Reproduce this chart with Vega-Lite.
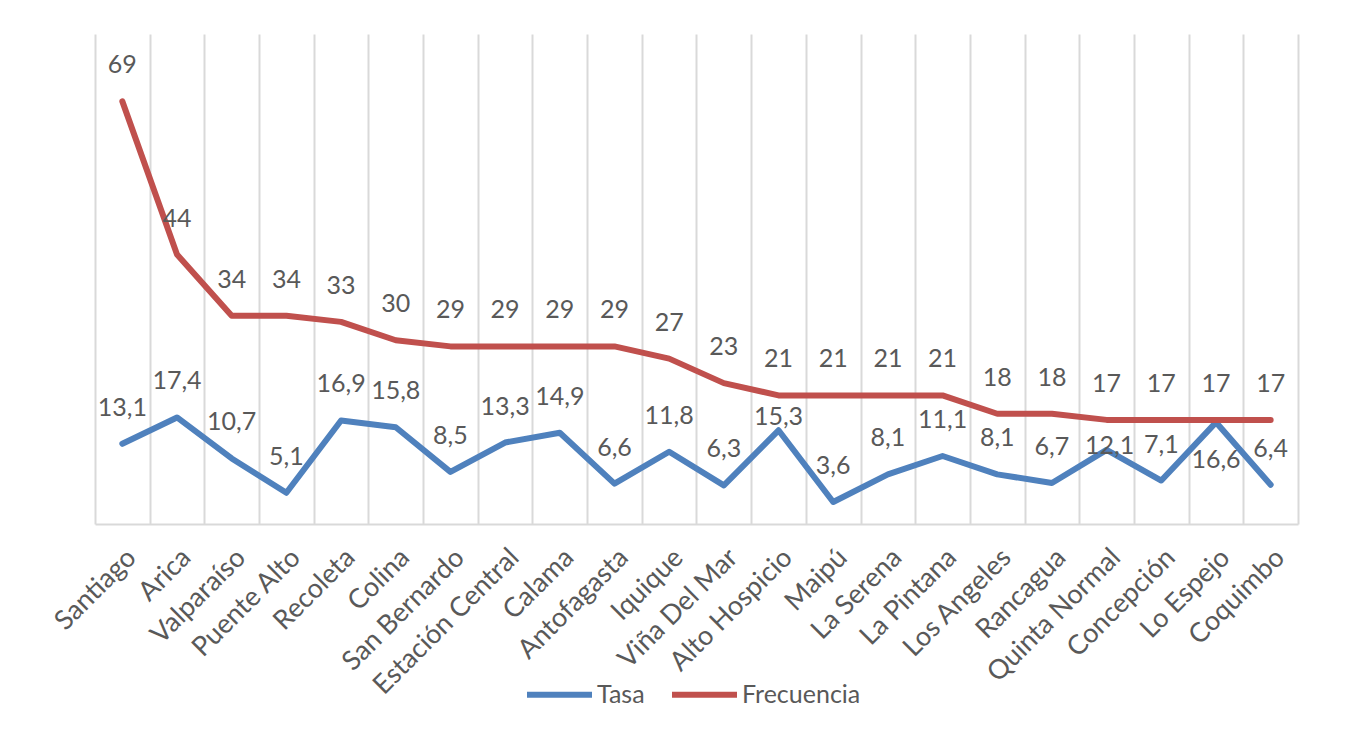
{
  "$schema": "https://vega.github.io/schema/vega-lite/v6.json",
  "width": 1203,
  "height": 490,
  "autosize": {"type": "none"},
  "padding": {"left": 95, "top": 34, "right": 60, "bottom": 210},
  "background": "white",
  "config": {
    "locale": {"number": {"decimal": ",", "thousands": ".", "grouping": [3], "currency": ["$", ""]}},
    "view": {"stroke": null},
    "font": "Lato"
  },
  "data": {
    "values": [
      {"ciudad": "Santiago", "Tasa": 13.1, "Frecuencia": 69},
      {"ciudad": "Arica", "Tasa": 17.4, "Frecuencia": 44},
      {"ciudad": "Valparaíso", "Tasa": 10.7, "Frecuencia": 34},
      {"ciudad": "Puente Alto", "Tasa": 5.1, "Frecuencia": 34},
      {"ciudad": "Recoleta", "Tasa": 16.9, "Frecuencia": 33},
      {"ciudad": "Colina", "Tasa": 15.8, "Frecuencia": 30},
      {"ciudad": "San Bernardo", "Tasa": 8.5, "Frecuencia": 29},
      {"ciudad": "Estación Central", "Tasa": 13.3, "Frecuencia": 29},
      {"ciudad": "Calama", "Tasa": 14.9, "Frecuencia": 29},
      {"ciudad": "Antofagasta", "Tasa": 6.6, "Frecuencia": 29},
      {"ciudad": "Iquique", "Tasa": 11.8, "Frecuencia": 27},
      {"ciudad": "Viña Del Mar", "Tasa": 6.3, "Frecuencia": 23},
      {"ciudad": "Alto Hospicio", "Tasa": 15.3, "Frecuencia": 21},
      {"ciudad": "Maipú", "Tasa": 3.6, "Frecuencia": 21},
      {"ciudad": "La Serena", "Tasa": 8.1, "Frecuencia": 21},
      {"ciudad": "La Pintana", "Tasa": 11.1, "Frecuencia": 21},
      {"ciudad": "Los Angeles", "Tasa": 8.1, "Frecuencia": 18},
      {"ciudad": "Rancagua", "Tasa": 6.7, "Frecuencia": 18},
      {"ciudad": "Quinta Normal", "Tasa": 12.1, "Frecuencia": 17},
      {"ciudad": "Concepción", "Tasa": 7.1, "Frecuencia": 17},
      {"ciudad": "Lo Espejo", "Tasa": 16.6, "Frecuencia": 17},
      {"ciudad": "Coquimbo", "Tasa": 6.4, "Frecuencia": 17}
    ]
  },
  "transform": [{"fold": ["Tasa", "Frecuencia"], "as": ["serie", "valor"]}],
  "encoding": {
    "x": {
      "field": "ciudad",
      "type": "nominal",
      "sort": null,
      "bandPosition": 0.5,
      "scale": {"type": "band", "paddingInner": 0, "paddingOuter": 0},
      "axis": {
        "title": null,
        "labelAngle": -45,
        "labelFontSize": 27,
        "labelFont": "Lato",
        "labelColor": "#595959",
        "labelPadding": 20,
        "labelOffset": 0,
        "labelLimit": 0,
        "ticks": false,
        "grid": true,
        "gridColor": "#d9d9d9",
        "gridWidth": 2,
        "domainColor": "#d9d9d9",
        "domainWidth": 2,
        "tickBand": "extent"
      }
    },
    "y": {
      "field": "valor",
      "type": "quantitative",
      "scale": {"domain": [0, 80]},
      "axis": null
    }
  },
  "layer": [
    {
      "mark": {"type": "line", "strokeWidth": 6, "strokeCap": "round", "strokeJoin": "round"},
      "encoding": {
        "color": {
          "field": "serie",
          "type": "nominal",
          "scale": {"domain": ["Tasa", "Frecuencia"], "range": ["#4F81BD", "#C0504D"]},
          "legend": {
            "title": null,
            "orient": "none",
            "legendX": 429,
            "legendY": 625,
            "direction": "horizontal",
            "symbolType": "stroke",
            "symbolSize": 4225,
            "symbolStrokeWidth": 6,
            "labelFontSize": 25,
            "labelFont": "Lato",
            "labelColor": "#595959",
            "labelOffset": 2,
            "columnPadding": 15
          }
        }
      }
    },
    {
      "transform": [{"filter": "datum.serie === 'Frecuencia'"}],
      "mark": {"type": "text", "dy": -36, "fontSize": 25, "font": "Lato", "color": "#595959", "baseline": "middle"},
      "encoding": {"text": {"field": "valor", "type": "quantitative", "format": ".0f"}}
    },
    {
      "transform": [{"filter": "datum.serie === 'Tasa' && datum.ciudad !== 'Lo Espejo' && datum.ciudad !== 'Quinta Normal' && datum.ciudad !== 'Alto Hospicio'"}],
      "mark": {"type": "text", "dy": -36, "fontSize": 25, "font": "Lato", "color": "#595959", "baseline": "middle"},
      "encoding": {"text": {"field": "valor", "type": "quantitative", "format": ".1f"}}
    },
    {
      "transform": [{"filter": "datum.serie === 'Tasa' && datum.ciudad === 'Lo Espejo'"}],
      "mark": {"type": "text", "dy": 38, "fontSize": 25, "font": "Lato", "color": "#595959", "baseline": "middle"},
      "encoding": {"text": {"field": "valor", "type": "quantitative", "format": ".1f"}}
    },
    {
      "transform": [{"filter": "datum.serie === 'Tasa' && datum.ciudad === 'Quinta Normal'"}],
      "mark": {"type": "text", "dy": -4, "dx": 3, "fontSize": 25, "font": "Lato", "color": "#595959", "baseline": "middle"},
      "encoding": {"text": {"field": "valor", "type": "quantitative", "format": ".1f"}}
    },
    {
      "transform": [{"filter": "datum.serie === 'Tasa' && datum.ciudad === 'Alto Hospicio'"}],
      "mark": {"type": "text", "dy": -13, "fontSize": 25, "font": "Lato", "color": "#595959", "baseline": "middle"},
      "encoding": {"text": {"field": "valor", "type": "quantitative", "format": ".1f"}}
    }
  ]
}
